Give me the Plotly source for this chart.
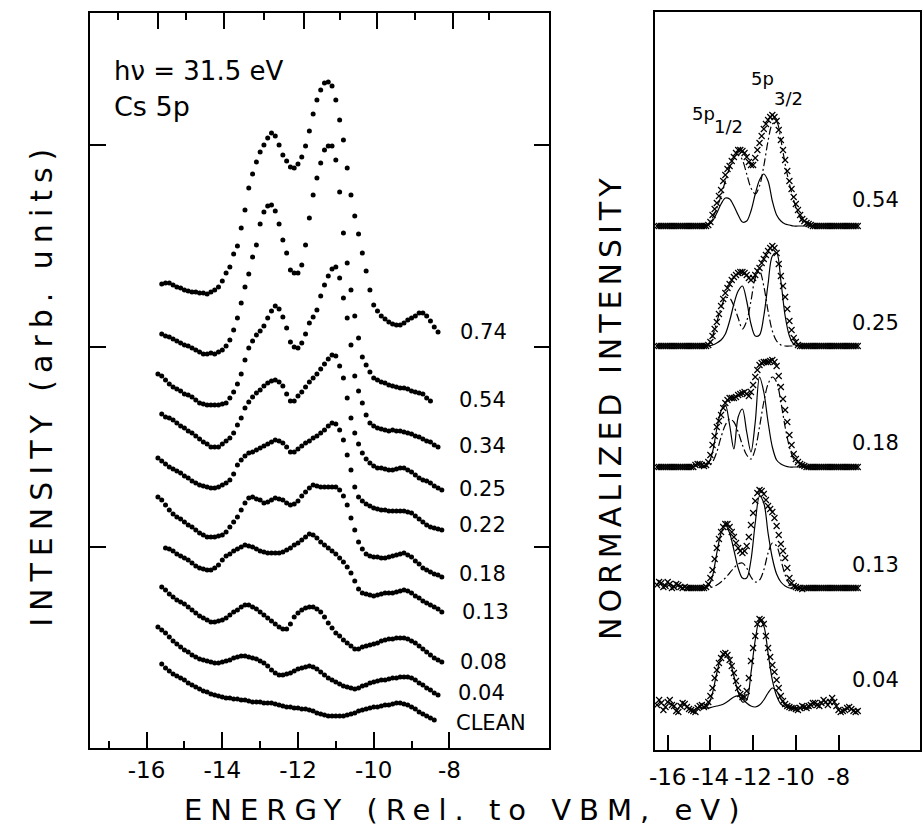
import numpy as np
import plotly.graph_objects as go

W, H = 922, 827
FONT = "DejaVu Sans"

# ---------------- Left panel: Cs 5p spectra at several coverages (arb. units, stacked) ----------------
LEFT_LABELS = ["0.74", "0.54", "0.34", "0.25", "0.22", "0.18", "0.13", "0.08", "0.04", "CLEAN"]
LEFT_E_START = [-15.6, -15.6, -15.7, -15.6, -15.7, -15.7, -15.5, -15.6, -15.7, -15.6]
E_STEP = 0.1

I_074 = [464, 465, 465, 463, 461, 460, 458,
         457, 456, 456, 455, 455, 454, 456, 458, 461, 467,
         475, 481, 494, 502, 520, 538, 560, 574, 586, 596,
         603, 610, 615, 612, 603, 593, 587, 581, 580, 584,
         591, 602, 617, 634, 648, 658, 665, 666, 662, 648,
         628, 608, 580, 553, 532, 514, 495, 477, 458, 443,
         437, 432, 429, 426, 424, 423, 423, 425, 428, 430,
         432, 435, 435, 432, 427, 421, 416]
I_054 = [414, 412, 411, 409, 407, 405, 403,
         402, 400, 398, 396, 394, 394, 395, 394, 396, 398,
         402, 408, 418, 430, 445, 461, 474, 491, 503, 524,
         536, 542, 543, 537, 524, 508, 495, 478, 475, 475,
         483, 503, 530, 553, 570, 585, 598, 602, 602, 588,
         556, 515, 485, 458, 432, 410, 391, 383, 376, 370,
         368, 366, 365, 363, 362, 361, 360, 360, 359, 357,
         356, 355, 354, 350, 347]
I_034 = [374, 372, 368, 364, 361, 359, 357, 354,
         353, 351, 348, 345, 344, 343, 343, 343, 343, 344,
         345, 350, 356, 364, 374, 388, 400, 407, 413, 417,
         422, 430, 437, 442, 439, 431, 420, 406, 401, 400,
         405, 414, 425, 431, 438, 452, 463, 472, 479, 481,
         470, 450, 430, 403, 372, 357, 345, 333, 325, 322,
         320, 319, 318, 317, 318, 317, 317, 316, 315, 314,
         312, 311, 309, 307, 306, 303, 301]
I_025 = [334, 331, 330, 328, 325, 322, 320,
         317, 315, 312, 309, 306, 304, 301, 301, 301, 304,
         307, 310, 315, 323, 330, 340, 346, 351, 355, 358,
         362, 365, 367, 368, 366, 362, 354, 347, 347, 352,
         356, 361, 366, 370, 374, 379, 384, 389, 393, 392,
         382, 370, 350, 330, 315, 304, 295, 289, 285, 282,
         280, 280, 279, 278, 278, 279, 280, 280, 278, 276,
         273, 270, 268, 267, 265, 262, 260, 258]
I_022 = [290, 287, 284, 281, 279, 277, 275, 272,
         270, 267, 265, 263, 262, 261, 260, 260, 261, 263,
         265, 268, 274, 283, 288, 292, 295, 296, 298, 300,
         302, 304, 306, 308, 307, 305, 301, 296, 296, 299,
         302, 305, 307, 310, 312, 315, 318, 322, 325, 324,
         318, 308, 293, 278, 261, 251, 247, 244, 242, 240,
         239, 238, 238, 237, 237, 237, 237, 237, 236, 235,
         232, 229, 226, 223, 221, 220, 219, 218]
I_018 = [251, 248, 243, 238, 234, 231, 229, 226,
         223, 221, 218, 215, 213, 211, 211, 211, 212, 213,
         216, 221, 226, 231, 238, 245, 250, 251, 249, 248,
         245, 246, 248, 250, 249, 248, 245, 243, 244, 247,
         252, 256, 260, 263, 262, 261, 261, 261, 261, 261,
         258, 252, 243, 230, 218, 206, 199, 194, 192, 191,
         191, 190, 190, 191, 192, 193, 194, 195, 193, 191,
         187, 184, 180, 178, 176, 174, 173, 171]
I_013 = [200, 199, 197, 194, 192, 190,
         188, 185, 182, 180, 179, 178, 178, 180, 183, 188,
         192, 194, 197, 199, 201, 203, 202, 201, 199, 197,
         196, 195, 195, 195, 195, 196, 198, 200, 203, 205,
         208, 211, 214, 213, 210, 206, 203, 200, 197, 194,
         190, 186, 181, 175, 167, 159, 155, 154, 153, 152,
         153, 154, 155, 155, 155, 156, 157, 158, 157, 155,
         152, 150, 147, 145, 143, 141, 139, 136]
I_008 = [161, 158, 154, 151, 148, 146, 144,
         141, 138, 135, 132, 130, 128, 126, 126, 127, 128,
         130, 133, 136, 138, 141, 143, 143, 141, 139, 136,
         133, 130, 127, 124, 121, 119, 119, 124, 131, 135,
         138, 140, 141, 141, 139, 136, 131, 125, 120, 115,
         112, 108, 105, 102, 99, 99, 101, 102, 103, 104,
         105, 107, 108, 109, 109, 110, 110, 110, 109, 107,
         105, 102, 99, 96, 93, 90, 88, 86]
I_004 = [121, 118, 115, 111, 107, 104, 101, 98,
         96, 93, 91, 89, 88, 87, 86, 85, 85, 86,
         87, 88, 90, 91, 92, 92, 91, 90, 89, 87,
         85, 82, 78, 75, 73, 73, 74, 75, 77, 79,
         80, 81, 82, 81, 79, 76, 73, 70, 68, 66,
         64, 62, 61, 60, 59, 60, 62, 63, 65, 66,
         67, 68, 68, 69, 70, 70, 71, 71, 71, 70,
         68, 65, 63, 60, 58, 55, 53]
I_CLEAN = [84, 80, 77, 74, 72, 70, 68,
           65, 63, 61, 59, 57, 56, 54, 53, 52, 51,
           50, 50, 49, 49, 48, 48, 47, 46, 46, 46,
           45, 45, 45, 44, 43, 42, 41, 41, 40, 40,
           39, 39, 38, 37, 35, 34, 33, 32, 32, 32,
           32, 32, 33, 34, 35, 37, 38, 39, 40, 41,
           41, 42, 43, 43, 44, 45, 45, 44, 43, 41,
           39, 36, 34, 32, 30, 28]
LEFT_SERIES = [I_074, I_054, I_034, I_025, I_022, I_018, I_013, I_008, I_004, I_CLEAN]

LEFT_TICKS = [-16, -14, -12, -10, -8]
LEFT_TICK_TEXT = ["-16", "-14", "-12", "-10", "-8"]
LEFT_MINOR = [-17, -15, -13, -11, -9]
TOP_MAJOR = [-15.7, -13.95, -11.85, -9.9, -7.9]
TOP_MINOR = [-16.75, -14.95, -12.9, -10.9, -8.9, -6.95]

# ---------------- Right panel: normalized spectra (0.1 eV steps) with fitted components ----------------
FIT_LABELS = ["0.54", "0.25", "0.18", "0.13", "0.04"]
FIT_OFFSETS = [524, 404, 283, 162, 42]
R_E_START = -16.5
R_STEP = 0.1
R_054 = ([0] * 22 +
         [0, 0, 1, 4, 11, 17, 23, 30, 36, 45,
          51, 57, 60, 65, 69, 73, 76, 76, 75, 73,
          69, 64, 61, 61, 68, 76, 83, 90, 97, 102,
          106, 109, 111, 109, 105, 96, 86, 76, 66, 55,
          45, 37, 29, 22, 16, 11, 7, 5, 3, 2,
          1] +
         [0] * 22)
R_025 = ([0] * 22 +
         [0, 0, 1, 4, 10, 17, 24, 32, 40, 47,
          53, 58, 62, 66, 69, 71, 73, 74, 74, 73,
          71, 68, 66, 68, 71, 75, 78, 83, 87, 91,
          95, 98, 100, 98, 93, 82, 70, 60, 49, 37,
          25, 16, 8, 4, 1, 0, 0, 0, 0, 0,
          0] +
         [0] * 22)
R_018 = ([0] * 18 +
         [2, 3, 3, 2, 1, 2, 5, 12, 22, 31,
          40, 46, 52, 59, 64, 67, 69, 69, 69, 70,
          72, 73, 74, 75, 73, 71, 75, 82, 90, 97,
          102, 104, 105, 105, 105, 106, 107, 105, 101, 91,
          80, 68, 57, 45, 32, 22, 13, 8, 5, 3,
          2, 1, 0, 0, 0] +
         [0] * 22)
R_013 = ([3, 6, 5, 1, 2, 6, 4, 0, 1, 4, 3, 1, 0, 1] +
         [0] * 9 +
         [1, 4, 10, 18, 29, 40, 49, 56, 61, 64,
          64, 61, 56, 51, 45, 40, 37, 35, 37, 42,
          51, 63, 75, 87, 95, 98, 97, 94, 88, 82,
          79, 76, 70, 62, 53, 44, 37, 30, 20, 10,
          5, 2, 1] +
         [0, 0, -1] +
         [0] * 26)
R_004 = [3, 8, 5, -2, 1, 6, 8, 3, 2, -3,
         -4, 2, 5, 4, 1, -1, -2, -3, -4, 0,
         2, 3, 1, 2, 6, 12, 20, 30, 38, 45,
         50, 54, 55, 53, 48, 42, 35, 27, 20, 14,
         11, 11, 17, 30, 47, 60, 72, 84, 89, 88,
         84, 72, 60, 51, 43, 36, 28, 20, 12, 7,
         4, 2, 1, 0, 0, -1, -2, 0, 2, 1,
         0, 2, 3, 5, 5, 3, 2, 5, 8, 6,
         3, 6, 10, 6, 2, -2, -4, -3, -2, 0,
         1, -1, -3, -4, -3]
R_DATA = [R_054, R_025, R_018, R_013, R_004]

C_E_START = -14.5
C_STEP = 0.2
S_054 = [0, 0, 1, 5, 13, 22, 28, 27, 20, 11, 4, 5, 15, 32, 46, 52, 45, 25, 11, 5, 2, 1, 0, 0, 0, 0, 0]
D_054 = [0, 0, 2, 8, 18, 30, 45, 58, 68, 72, 66, 52, 38, 32, 40, 60, 85, 102, 104, 86, 62, 42, 26, 13, 5, 1, 0]
S_025 = [0, 0, 0, 1, 3, 6, 12, 25, 42, 55, 60, 45, 22, 10, 11, 30, 62, 90, 93, 65, 30, 10, 2, 0, 0, 0, 0]
D_025 = [0, 0, 2, 10, 24, 38, 48, 48, 40, 28, 17, 25, 45, 68, 75, 60, 35, 15, 5, 1, 0, 0, 0, 0, 0, 0, 0]
S_018 = [0, 0, 3, 15, 38, 56, 62, 42, 18, 50, 58, 35, 15, 45, 90, 75, 45, 20, 7, 3, 1, 0, 0, 0, 0, 0, 0]
D_018 = [0, 0, 1, 5, 15, 30, 42, 48, 45, 35, 22, 12, 8, 18, 40, 65, 83, 90, 85, 65, 40, 20, 8, 2, 0, 0, 0]
S_013 = [0, 0, 2, 12, 35, 55, 63, 55, 38, 20, 10, 10, 28, 65, 92, 85, 55, 30, 14, 6, 2, 0, 0, 0, 0, 0, 0]
D_013 = [0, 0, 0, 1, 3, 6, 10, 15, 20, 24, 25, 20, 11, 6, 8, 18, 35, 45, 42, 28, 13, 4, 1, 0, 0, 0, 0]
S_004 = [0, 0, 3, 15, 35, 50, 55, 48, 32, 16, 6, 8, 35, 68, 88, 82, 55, 28, 12, 4, 1, 0, 0, 0, 0, 0, 0]
S2_004 = [0, 0, 0, 1, 2, 3, 5, 8, 11, 12, 9, 5, 2, 1, 3, 8, 15, 20, 17, 9, 3, 1, 0, 0, 0, 0, 0]
SOLID = [[S_054], [S_025], [S_018], [S_013], [S_004, S2_004]]
DASHDOT = [[D_054], [D_025], [D_018], [D_013], []]

RIGHT_TICKS = [-16, -14, -12, -10, -8]
RIGHT_TICK_TEXT = ["-16", "-14", "-12", "-10", "-8"]

# ---------------- Figure ----------------
fig = go.Figure()

# the last two series are plotted on twin top axes (identical range) that carry the top tick marks
XAXES_LEFT = ["x"] * 8 + ["x4", "x3"]
for xa, e0, vals in zip(XAXES_LEFT, LEFT_E_START, LEFT_SERIES):
    e = np.round(e0 + E_STEP * np.arange(len(vals)), 2)
    fig.add_trace(go.Scatter(x=e, y=vals, mode="markers", xaxis=xa, yaxis="y",
                             marker=dict(size=5, color="black"), showlegend=False,
                             hoverinfo="skip"))

line_solid = dict(color="black", width=1.2, shape="spline", smoothing=0.9)
line_dd = dict(color="black", width=1.2, shape="spline", smoothing=0.9, dash="8px,3px,2px,3px")
for off, data, sol, dd in zip(FIT_OFFSETS, R_DATA, SOLID, DASHDOT):
    for comp in sol:
        ec = np.round(C_E_START + C_STEP * np.arange(len(comp)), 2)
        fig.add_trace(go.Scatter(x=ec, y=np.array(comp) + off, mode="lines", xaxis="x2", yaxis="y2",
                                 line=line_solid, showlegend=False, hoverinfo="skip"))
    for comp in dd:
        ec = np.round(C_E_START + C_STEP * np.arange(len(comp)), 2)
        fig.add_trace(go.Scatter(x=ec, y=np.array(comp) + off, mode="lines", xaxis="x2", yaxis="y2",
                                 line=line_dd, showlegend=False, hoverinfo="skip"))
    er = np.round(R_E_START + R_STEP * np.arange(len(data)), 2)
    fig.add_trace(go.Scatter(x=er, y=np.array(data) + off, mode="markers", xaxis="x2", yaxis="y2",
                             marker=dict(symbol="x-thin", size=6, line=dict(width=1.2, color="black"),
                                         color="black"),
                             showlegend=False, hoverinfo="skip"))


def px(x):
    return x / W


def py(y):
    return 1 - y / H


TICK_FONT = dict(family=FONT, size=23, color="black")
axis_common = dict(showline=True, linecolor="black", linewidth=1.6, showgrid=False, zeroline=False)
LEFT_RANGE = [-17.483, -5.357]
top_common = dict(overlaying="x", side="top", anchor="y", range=LEFT_RANGE,
                  showline=False, showgrid=False, zeroline=False, showticklabels=False,
                  ticks="inside", tickwidth=1.5, tickcolor="black", tickmode="array")

fig.update_layout(
    width=W, height=H, margin=dict(l=0, r=0, t=0, b=0, pad=0),
    paper_bgcolor="white", plot_bgcolor="white",
    font=dict(family=FONT, size=23, color="black"),
    xaxis=dict(domain=[px(85), px(547)], range=LEFT_RANGE, anchor="y", side="bottom",
               mirror=True, ticks="inside", ticklen=16, tickwidth=1.5, tickcolor="black",
               tickmode="array", tickvals=LEFT_TICKS, ticktext=LEFT_TICK_TEXT,
               tickfont=TICK_FONT, ticklabelstandoff=1,
               minor=dict(tickvals=LEFT_MINOR, ticks="inside", ticklen=7, tickwidth=1.5,
                          tickcolor="black"),
               **axis_common),
    xaxis3=dict(tickvals=TOP_MAJOR, ticklen=16, **top_common),
    xaxis4=dict(tickvals=TOP_MINOR, ticklen=7, **top_common),
    yaxis=dict(domain=[py(748), py(13)], range=[0, 735], anchor="x",
               mirror="ticks", ticks="inside", ticklen=16, tickwidth=1.5, tickcolor="black",
               tickvals=[201, 401, 603], showticklabels=False, **axis_common),
    xaxis2=dict(domain=[px(653), px(920)], range=[-16.605, -4.186], anchor="y2",
                mirror=True, ticks="inside", ticklen=15, tickwidth=1.5, tickcolor="black",
                tickmode="array", tickvals=RIGHT_TICKS, ticktext=RIGHT_TICK_TEXT,
                tickfont=TICK_FONT, ticklabelstandoff=6, **axis_common),
    yaxis2=dict(domain=[py(750), py(12)], range=[0, 738], anchor="x2",
                mirror=True, ticks="", showticklabels=False, **axis_common),
)

annotations = []


def ann(text, x, y, size=21, xanchor="left", yanchor="middle", angle=0):
    annotations.append(dict(text=text, x=px(x), y=py(y), xref="paper", yref="paper",
                            showarrow=False, xanchor=xanchor, yanchor=yanchor, textangle=angle,
                            font=dict(family=FONT, size=size, color="black")))


LEFT_LABEL_POS = [(455, 332), (454, 400), (454, 446), (454, 489), (454, 525),
                  (454, 574), (457, 612), (455, 662), (453, 693), (451, 723)]
for lab, (x, y) in zip(LEFT_LABELS, LEFT_LABEL_POS):
    ann(lab, x, y, size=21)

RIGHT_LABEL_POS = [(850, 200), (850, 323), (850, 443), (850, 565), (850, 680)]
for lab, (x, y) in zip(FIT_LABELS, RIGHT_LABEL_POS):
    ann(lab, x, y, size=21)

ann("hν = 31.5 eV", 107, 71, size=26)
ann("Cs 5p", 107, 106, size=27)
ann("5p", 688, 113, size=18)
ann("1/2", 711, 126, size=18)
ann("5p", 748, 79, size=18)
ann("3/2", 771, 98, size=18)

ann("INTENSITY (arb. units)", 36, 384, size=30, xanchor="center", angle=-90)
ann("NORMALIZED INTENSITY", 608, 407, size=30, xanchor="center", angle=-90)
ann("ENERGY (Rel. to VBM, eV)", 463, 810, size=29, xanchor="center")

fig.update_layout(annotations=annotations)

post = """
document.body.style.margin = '0px';
document.body.style.padding = '0px';
var gd = document.getElementById('{plot_id}');
var sp = {"INTENSITY (arb. units)": "7px", "NORMALIZED INTENSITY": "5px", "ENERGY (Rel. to VBM, eV)": "8px"};
gd.querySelectorAll('text').forEach(function(t){ var s = sp[t.textContent]; if (s) { t.style.letterSpacing = s; } });
"""

fig.write_html("out.html", post_script=post, config={"displayModeBar": False})
